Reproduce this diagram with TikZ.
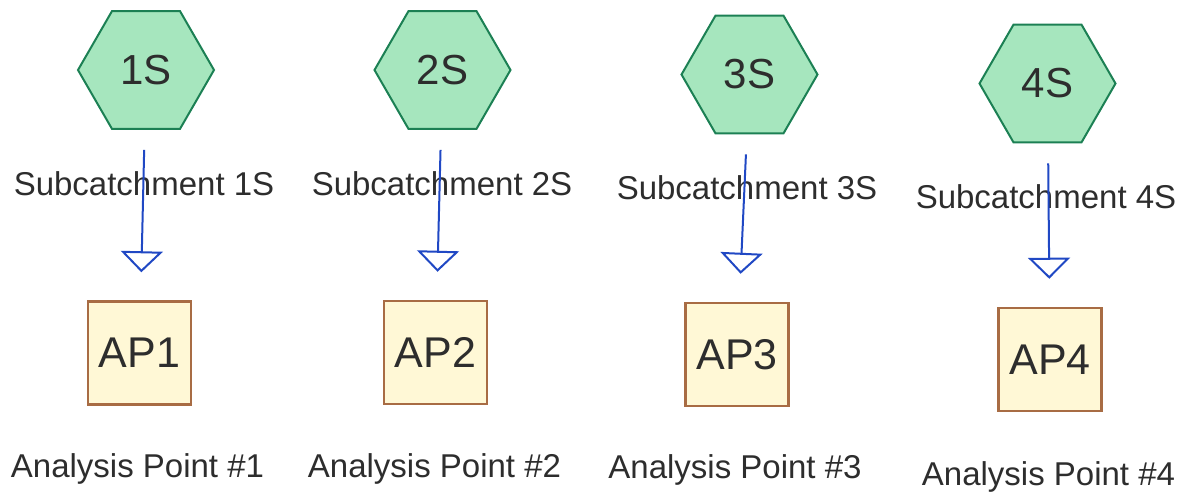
\documentclass[tikz,border=0pt]{standalone}
\usepackage{fontspec}
\setmainfont{Liberation Sans}
\usetikzlibrary{shapes.geometric,arrows.meta}

\definecolor{hexfill}{RGB}{166,230,190}
\definecolor{hexline}{RGB}{28,128,84}
\definecolor{apfill}{RGB}{255,248,214}
\definecolor{apline}{RGB}{168,108,68}
\definecolor{flowblue}{RGB}{32,72,196}
\definecolor{txt}{RGB}{45,45,45}

\begin{document}
\begin{tikzpicture}[x=1pt,y=-1pt,
    subcat/.style={regular polygon, regular polygon sides=6, minimum size=136pt,
        inner sep=0pt, fill=hexfill, draw=hexline, line width=2pt, text=txt,
        font=\fontsize{42}{48}\selectfont},
    apoint/.style={rectangle, minimum size=103pt, inner sep=0pt, fill=apfill,
        draw=apline, line width=2.5pt, text=txt, font=\fontsize{43}{50}\selectfont},
    lbl/.style={anchor=base, text=txt, inner sep=0pt, font=\fontsize{33}{40}\selectfont},
    flow/.style={draw=flowblue, line width=2pt, shorten <=20pt, shorten >=28pt,
        -{Triangle[open, fill=white, width=42pt, length=21pt]}}]

    % Rahmen
    \useasboundingbox (0,0) rectangle (1189,493);

    % Teilgebiete, Analysepunkte und Abfluss
    \foreach \i/\hx/\hy/\bx/\by/\sx/\sy/\ax/\ay in {
            1/146/70/139.5/353/144/195/137.5/477,
            2/442.5/70/435.5/352.5/442/195/434.5/477,
            3/749.5/74.5/737/354.5/747/199/735/478,
            4/1047.5/83.5/1050/359.5/1046/208/1048.5/485} {
        \node[subcat] (h\i) at (\hx,\hy) {\i S};
        \node[apoint] (a\i) at (\bx,\by) {AP\i};
        \node[lbl] (s\i) at (\sx,\sy) {Subcatchment \i S};
        \node[lbl] (p\i) at (\ax,\ay) {Analysis Point \#\i};
        \draw[flow] (h\i) -- (a\i);
    }
\end{tikzpicture}
\end{document}
